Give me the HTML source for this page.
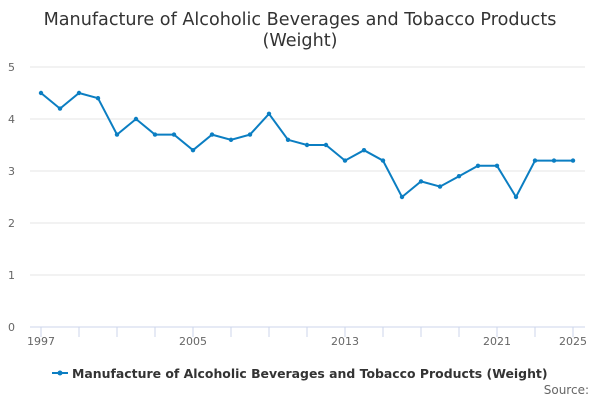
<!DOCTYPE html>
<html><head><meta charset="utf-8"><style>
body{margin:0;background:#fff;font-family:"Liberation Sans","DejaVu Sans",sans-serif}
svg text{font-family:"DejaVu Sans","Liberation Sans",sans-serif}
</style></head><body>
<svg width="600" height="400" id="c">
<text x="300" y="25" text-anchor="middle" font-size="17.6" fill="#333">Manufacture of Alcoholic Beverages and Tobacco Products</text>
<text x="300" y="46" text-anchor="middle" font-size="17.6" fill="#333">(Weight)</text>
<g id="grid"></g><g id="xax"></g><g id="ser"></g>
<g>
<line x1="52" y1="373" x2="68" y2="373" stroke="#0b7ec2" stroke-width="2"/>
<circle cx="60" cy="373" r="2.5" fill="#0b7ec2"/>
<text x="72" y="378" font-size="12.45" font-weight="bold" fill="#333">Manufacture of Alcoholic Beverages and Tobacco Products (Weight)</text>
</g>
<text x="589" y="394" text-anchor="end" font-size="12" fill="#666">Source:</text>
</svg>
<script>
const years=[1997,1998,1999,2000,2001,2002,2003,2004,2005,2006,2007,2008,2009,2010,2011,2012,2013,2014,2015,2016,2017,2018,2019,2020,2021,2022,2023,2024,2025];
const values=[4.5,4.2,4.5,4.4,3.7,4.0,3.7,3.7,3.4,3.7,3.6,3.7,4.1,3.6,3.5,3.5,3.2,3.4,3.2,2.5,2.8,2.7,2.9,3.1,3.1,2.5,3.2,3.2,3.2];
const yTicks=[0,1,2,3,4,5];
const xLabels=[1997,2005,2013,2021,2025];
const NS="http://www.w3.org/2000/svg";
const x=v=>41+(v-1997)*19, y=v=>327-v*52;
function mk(t,a,p){const e=document.createElementNS(NS,t);for(const k in a)e.setAttribute(k,a[k]);p.appendChild(e);return e;}
const g=document.getElementById('grid');
yTicks.forEach(t=>{
 const l=mk('line',{x1:30,x2:585,y1:y(t),y2:y(t),stroke:t?'#e6e6e6':'#ccd6eb'},g);
 
 
 const tx=mk('text',{x:15,y:y(t)+4,'text-anchor':'end','font-size':11,fill:'#666'},g);tx.textContent=t;
 
 
});
const xa=document.getElementById('xax');
for(let yr=1997;yr<=2025;yr+=2){const l=mk('line',{x1:x(yr),x2:x(yr),y1:327,y2:337,stroke:'#ccd6eb'},xa);
 
 }
xLabels.forEach(yr=>{const t=mk('text',{x:x(yr),y:345,'text-anchor':'middle','font-size':11,fill:'#666'},xa);t.textContent=yr;
 
 });
const s=document.getElementById('ser');
const p=mk('path',{d:years.map((yr,i)=>(i?'L':'M')+x(yr)+' '+y(values[i])).join(''),fill:'none',stroke:'#0b7ec2','stroke-width':2},s);


years.forEach((yr,i)=>{const c=mk('circle',{cx:x(yr),cy:y(values[i]),r:2.2,fill:'#0b7ec2'},s);
 
 });
</script>
</body></html>
